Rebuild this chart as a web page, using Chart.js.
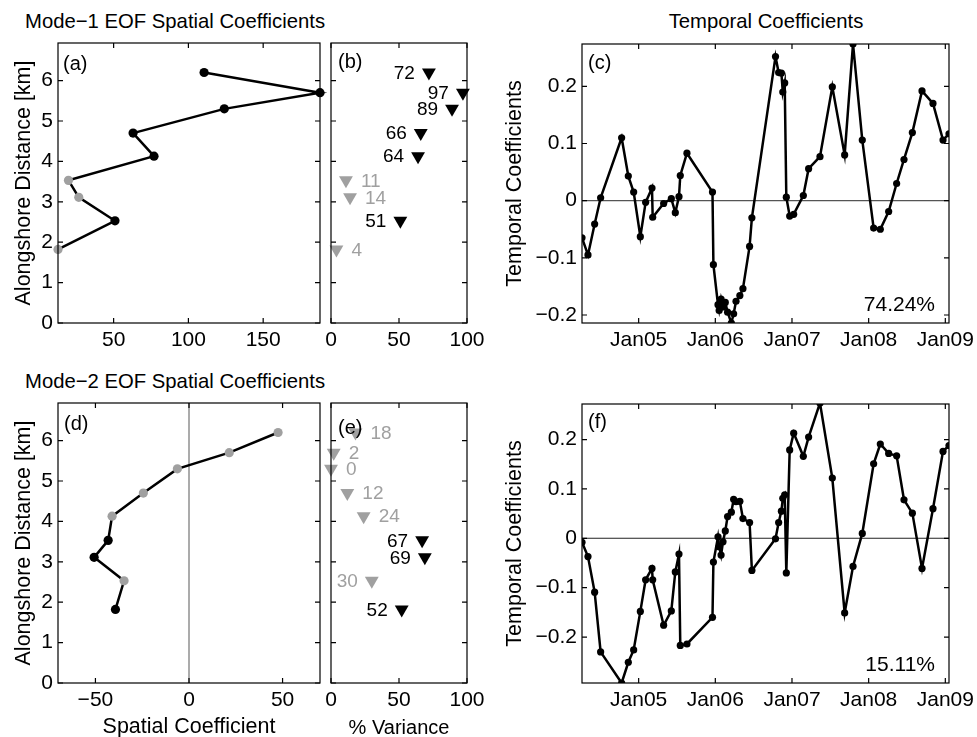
<!DOCTYPE html>
<html><head><meta charset="utf-8">
<script src="https://cdn.jsdelivr.net/npm/chart.js@4.4.1/dist/chart.umd.min.js"></script>
<style>
html,body{margin:0;padding:0;background:#fff;width:977px;height:737px;overflow:hidden;position:relative;font-family:"Liberation Sans",Arial,Helvetica,sans-serif;}
canvas{position:absolute;}
.t{position:absolute;font-size:20.3px;color:#000;white-space:nowrap;line-height:1;}
</style></head><body>
<div class="t" style="left:25px;top:11px">Mode−1 EOF Spatial Coefficients</div>
<div class="t" style="left:766px;top:11px;transform:translateX(-50%)">Temporal Coefficients</div>
<div class="t" style="left:25px;top:371px">Mode−2 EOF Spatial Coefficients</div>
<canvas id="ca"></canvas><canvas id="cb"></canvas><canvas id="cc"></canvas>
<canvas id="cd"></canvas><canvas id="ce"></canvas><canvas id="cf"></canvas>
<script>
// ---------------- data ----------------
const alongshoreKm   = [6.2, 5.7, 5.3, 4.7, 4.13, 3.53, 3.11, 2.53, 1.82];
const mode1Spatial   = [110.5, 188, 124, 63, 77, 19.8, 26.7, 50.9, 12.8];
const mode1Variance  = [72, 97, 89, 66, 64, 11, 14, 51, 4];
const mode2Spatial   = [47.6, 21.5, -6.2, -24.4, -41.1, -43.2, -50.7, -34.7, -39.3];
const mode2Variance  = [18, 2, 0, 12, 24, 67, 69, 30, 52];

const surveyYears = [
  2004.261, 2004.339, 2004.426, 2004.504, 2004.778, 2004.865, 2004.935, 2005.022,
  2005.091, 2005.174, 2005.183, 2005.326, 2005.426, 2005.478, 2005.526, 2005.543,
  2005.630, 2005.963, 2005.975, 2006.035, 2006.050, 2006.075, 2006.100, 2006.130,
  2006.160, 2006.209, 2006.239, 2006.270, 2006.320, 2006.360, 2006.447, 2006.477,
  2006.785, 2006.826, 2006.862, 2006.880, 2006.905, 2006.926, 2006.970, 2007.022,
  2007.148, 2007.217, 2007.365, 2007.526, 2007.687, 2007.796, 2007.917, 2008.065,
  2008.152, 2008.261, 2008.365, 2008.461, 2008.570, 2008.696, 2008.839, 2008.970,
  2009.048];
const mode1Temporal = [
  -0.065, -0.095, -0.041, 0.005, 0.110, 0.043, 0.015, -0.063,
  -0.003, 0.022, -0.029, -0.005, 0.0035, -0.021, 0.007, 0.044,
  0.083, 0.015, -0.112, -0.182, -0.192, -0.172, -0.186, -0.178,
  -0.195, -0.214, -0.198, -0.176, -0.166, -0.154, -0.080, -0.030,
  0.252, 0.224, 0.223, 0.190, 0.206, 0.006, -0.027, -0.024,
  0.009, 0.056, 0.077, 0.199, 0.080, 0.274, 0.106, -0.048,
  -0.050, -0.019, 0.030, 0.072, 0.119, 0.192, 0.170, 0.106,
  0.117];
const mode2Temporal = [
  -0.008, -0.037, -0.109, -0.230, -0.293, -0.251, -0.226, -0.148,
  -0.084, -0.061, -0.084, -0.176, -0.147, -0.068, -0.032, -0.217,
  -0.214, -0.160, -0.048, 0.003, -0.017, -0.034, -0.007, 0.015,
  0.044, 0.053, 0.079, 0.074, 0.075, 0.040, 0.032, -0.065,
  -0.001, 0.032, 0.055, 0.081, 0.088, -0.070, 0.179, 0.213,
  0.166, 0.205, 0.274, 0.122, -0.151, -0.057, 0.010, 0.151,
  0.191, 0.172, 0.167, 0.078, 0.051, -0.061, 0.060, 0.176,
  0.188];

const distTicks        = [0, 1, 2, 3, 4, 5, 6];
const mode1SpatialTicks = [50, 100, 150];
const mode2SpatialTicks = [-50, 0, 50];
const varianceTicks    = [0, 50, 100];
const timeTicks        = [2005, 2006, 2007, 2008, 2009];
const timeTickLabels   = ['Jan05', 'Jan06', 'Jan07', 'Jan08', 'Jan09'];
const temporalTicks    = [-0.2, -0.1, 0, 0.1, 0.2];
const mode1Explained   = '74.24%';
const mode2Explained   = '15.11%';

// ---------------- styling ----------------
const FONT = '"Liberation Sans", Arial, Helvetica, sans-serif';
const BLACK = '#000000', GRAY = '#a0a0a0';
const TICK_SIZE = 21, TITLE_SIZE = 21.5;
const fmt = v => v === 0 ? '0' : (v < 0 ? '\u2212' : '') + String(Math.abs(v));
const fmt1 = v => v === 0 ? '0' : (v < 0 ? '\u2212' : '') + Math.abs(v).toFixed(1);
const colorOf = v => v >= 50 ? BLACK : GRAY;

const framePlugin = {
  id: 'frame',
  beforeDatasetsDraw(chart, args, o) {
    const {ctx, chartArea: a, scales: {x, y}} = chart;
    ctx.save();
    ctx.strokeStyle = o.zeroColor || '#555';
    ctx.lineWidth = 1.1;
    if (o.zeroY) { const py = y.getPixelForValue(0); ctx.beginPath(); ctx.moveTo(a.left, py); ctx.lineTo(a.right, py); ctx.stroke(); }
    if (o.zeroX) { const px = x.getPixelForValue(0); ctx.beginPath(); ctx.moveTo(px, a.top); ctx.lineTo(px, a.bottom); ctx.stroke(); }
    ctx.restore();
  },
  afterDatasetsDraw(chart, args, o) {
    const {ctx, chartArea: a, scales: {x, y}} = chart;
    ctx.save();
    // frame and inward ticks
    ctx.strokeStyle = '#000'; ctx.lineWidth = 1.2;
    ctx.strokeRect(a.left, a.top, a.right - a.left, a.bottom - a.top);
    const L = 5;
    ctx.beginPath();
    x.ticks.forEach(t => { const p = x.getPixelForValue(t.value); ctx.moveTo(p, a.bottom); ctx.lineTo(p, a.bottom - L); ctx.moveTo(p, a.top); ctx.lineTo(p, a.top + L); });
    y.ticks.forEach(t => { const p = y.getPixelForValue(t.value); ctx.moveTo(a.left, p); ctx.lineTo(a.left + L, p); ctx.moveTo(a.right, p); ctx.lineTo(a.right - L, p); });
    ctx.stroke();
    // labels beside triangles
    if (o.triLabels) {
      const meta = chart.getDatasetMeta(0);
      ctx.font = '19px ' + FONT; ctx.textBaseline = 'middle';
      meta.data.forEach((pt, i) => {
        const v = o.triLabels[i];
        ctx.fillStyle = colorOf(v);
        if (v >= 30) { ctx.textAlign = 'right'; ctx.fillText(String(v), pt.x - 14, pt.y + 1); }
        else { ctx.textAlign = 'left'; ctx.fillText(String(v), pt.x + 15, pt.y + 1); }
      });
    }
    // texts
    (o.texts || []).forEach(t => {
      ctx.font = (t.size || 20) + 'px ' + FONT; ctx.fillStyle = '#000'; ctx.textBaseline = 'middle';
      if (t.right !== undefined) { ctx.textAlign = 'right'; ctx.fillText(t.text, a.right - t.right, t.bottom !== undefined ? a.bottom - t.bottom : a.top + t.top); }
      else { ctx.textAlign = 'left'; ctx.fillText(t.text, a.left + t.left, t.bottom !== undefined ? a.bottom - t.bottom : a.top + t.top); }
    });
    ctx.restore();
  }
};

function axis(opts, m, horizontal) {
  const s = {
    type: 'linear', min: opts.min, max: opts.max,
    afterBuildTicks: sc => { sc.ticks = (opts.ticks || []).map(v => ({value: v})); },
    grid: {display: false, drawTicks: false},
    border: {display: false},
    ticks: {
      display: opts.showLabels !== false,
      autoSkip: false, maxRotation: 0, minRotation: 0,
      padding: 5,
      color: '#000', font: {family: FONT, size: TICK_SIZE},
      callback: opts.fmt || (v => fmt(v))
    },
    afterFit: sc => {
      if (horizontal) { sc.height = m.b; } else { sc.width = m.l; }
      sc.paddingLeft = 0; sc.paddingRight = 0; sc.paddingTop = 0; sc.paddingBottom = 0;
    }
  };
  if (opts.title) {
    s.title = {display: true, text: opts.title, color: '#000',
      font: {family: FONT, size: opts.titleSize || TITLE_SIZE},
      padding: horizontal ? {top: 0, bottom: opts.titlePad} : {top: opts.titlePad, bottom: 0}};
  }
  return s;
}

function panel(id, plot, m, datasets, xo, yo, frame) {
  const cv = document.getElementById(id);
  const W = plot.r - plot.l + m.l + m.r, H = plot.b - plot.t + m.t + m.b;
  cv.style.left = (plot.l - m.l) + 'px'; cv.style.top = (plot.t - m.t) + 'px';
  cv.width = W; cv.height = H; cv.style.width = W + 'px'; cv.style.height = H + 'px';
  return new Chart(cv, {
    type: 'scatter',
    data: {datasets},
    options: {
      responsive: false, animation: false, devicePixelRatio: 1,
      layout: {padding: {left: 0, top: m.t, right: m.r, bottom: 0}},
      plugins: {legend: {display: false}, tooltip: {enabled: false}, frame},
      scales: {x: axis(xo, m, true), y: axis(yo, m, false)}
    },
    plugins: [framePlugin]
  });
}

const toXY = (xs, ys) => xs.map((v, i) => ({x: v, y: ys[i]}));

const PA = {l: 58, t: 43, r: 320, b: 323}, PB = {l: 331, t: 43, r: 467, b: 323}, PC = {l: 582, t: 44, r: 949, b: 323};
const PD = {l: 58, t: 403, r: 320, b: 683}, PE = {l: 331, t: 403, r: 467, b: 683}, PF = {l: 582, t: 404, r: 949, b: 683};
const mLeftPanel = {l: 58, t: 10, r: 30, b: 60};
const mMidPanel = {l: 12, t: 10, r: 30, b: 60};
const mRightPanel = {l: 90, t: 10, r: 35, b: 60};
const KM_MAX = 6.93;

function profileSet(xs, vars) {
  return [{
    data: toXY(xs, alongshoreKm), showLine: true, clip: false,
    borderColor: BLACK, borderWidth: 2.5,
    pointRadius: 4.6, pointHoverRadius: 4.6,
    pointBackgroundColor: vars.map(colorOf), pointBorderColor: vars.map(colorOf), pointBorderWidth: 0
  }];
}
function triSet(vars) {
  return [{
    data: toXY(vars, alongshoreKm), showLine: false, clip: false,
    pointStyle: 'triangle', rotation: 180, pointRadius: 8, pointHoverRadius: 8,
    pointBackgroundColor: vars.map(colorOf), pointBorderColor: vars.map(colorOf), pointBorderWidth: 0
  }];
}
function seriesSet(vals) {
  return [{
    data: toXY(surveyYears, vals), showLine: true,
    borderColor: BLACK, borderWidth: 2.5,
    pointRadius: 3.6, pointHoverRadius: 3.6,
    pointBackgroundColor: BLACK, pointBorderColor: BLACK, pointBorderWidth: 0
  }];
}
const timeFmt = v => { const i = timeTicks.indexOf(v); return i >= 0 ? timeTickLabels[i] : ''; };

// (a)
panel('ca', PA, mLeftPanel, profileSet(mode1Spatial, mode1Variance),
  {min: 12.8, max: 188, ticks: mode1SpatialTicks},
  {min: 0, max: KM_MAX, ticks: distTicks, title: 'Alongshore Distance [km]', titlePad: 11.5},
  {texts: [{text: '(a)', left: 5, top: 21}]});
// (b)
panel('cb', PB, mMidPanel, triSet(mode1Variance),
  {min: 0, max: 100, ticks: varianceTicks},
  {min: 0, max: KM_MAX, ticks: distTicks, showLabels: false},
  {texts: [{text: '(b)', left: 7, top: 19.5}], triLabels: mode1Variance});
// (c)
panel('cc', PC, mRightPanel, seriesSet(mode1Temporal),
  {min: surveyYears[0], max: surveyYears[surveyYears.length - 1], ticks: timeTicks, fmt: timeFmt},
  {min: -0.214, max: 0.274, ticks: temporalTicks, fmt: fmt1, title: 'Temporal Coefficients', titlePad: 10.5},
  {zeroY: true, zeroColor: '#555', texts: [{text: '(c)', left: 6, top: 19}, {text: mode1Explained, right: 14, bottom: 18, size: 21}]});
// (d)
panel('cd', PD, mLeftPanel, profileSet(mode2Spatial, mode2Variance),
  {min: -70, max: 70, ticks: mode2SpatialTicks, title: 'Spatial Coefficient', titlePad: 3},
  {min: 0, max: KM_MAX, ticks: distTicks, title: 'Alongshore Distance [km]', titlePad: 11.5},
  {zeroX: true, zeroColor: '#666', texts: [{text: '(d)', left: 6, top: 21}]});
// (e)
panel('ce', PE, mMidPanel, triSet(mode2Variance),
  {min: 0, max: 100, ticks: varianceTicks, title: '% Variance', titlePad: 3, titleSize: 20},
  {min: 0, max: KM_MAX, ticks: distTicks, showLabels: false},
  {texts: [{text: '(e)', left: 7, top: 25.5}], triLabels: mode2Variance});
// (f)
panel('cf', PF, mRightPanel, seriesSet(mode2Temporal),
  {min: surveyYears[0], max: surveyYears[surveyYears.length - 1], ticks: timeTicks, fmt: timeFmt},
  {min: -0.293, max: 0.272, ticks: temporalTicks, fmt: fmt1, title: 'Temporal Coefficients', titlePad: 10.5},
  {zeroY: true, zeroColor: '#222', texts: [{text: '(f)', left: 6, top: 18.5}, {text: mode2Explained, right: 14, bottom: 18, size: 21}]});
</script>
</body></html>
